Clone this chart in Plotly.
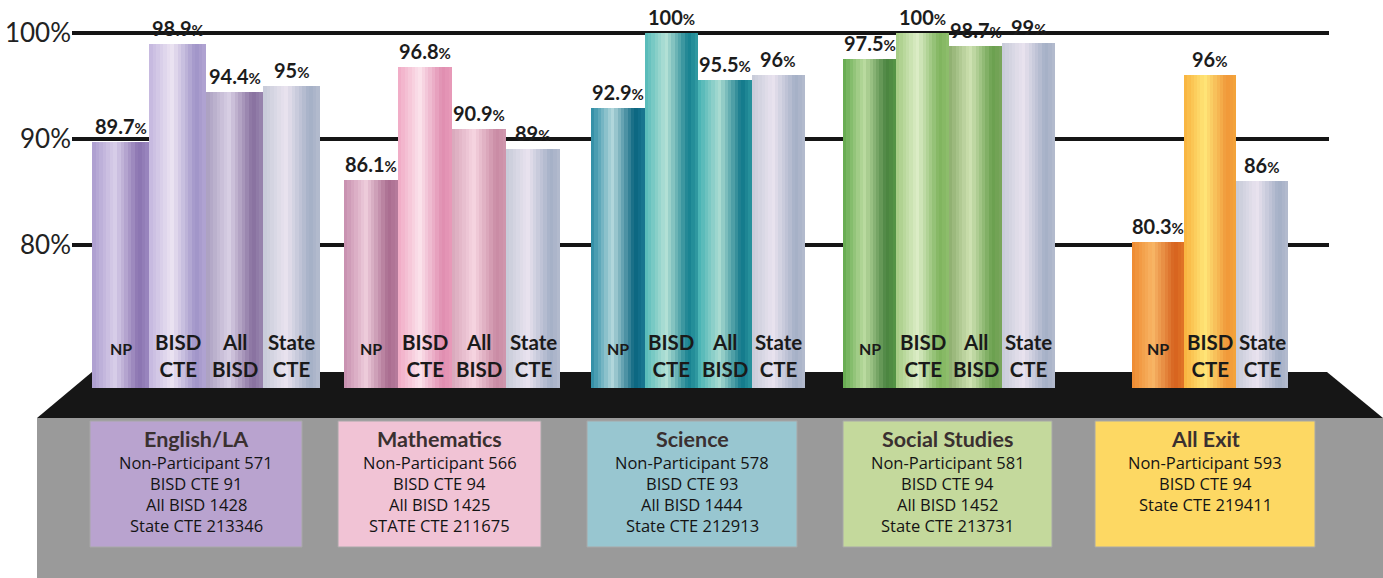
import plotly.graph_objects as go

# ---------------- data ----------------
subjects = ["English/LA", "Mathematics", "Science", "Social Studies", "All Exit"]
series = ["NP", "BISD CTE", "All BISD", "State CTE"]
np_rate = [89.7, 86.1, 92.9, 97.5, 80.3]
bisd_cte_rate = [98.9, 96.8, 100, 100, 96]
all_bisd_rate = [94.4, 90.9, 95.5, 98.7, None]
state_cte_rate = [95, 89, 96, 99, 86]

np_n = [571, 566, 578, 581, 593]
bisd_cte_n = [91, 94, 93, 94, 94]
all_bisd_n = [1428, 1425, 1444, 1452, None]
state_cte_n = [213346, 211675, 212913, 213731, 219411]
state_cte_caption = ["State CTE", "STATE CTE", "State CTE", "State CTE", "State CTE"]

bar_label_lines = {"NP": ["NP"], "BISD CTE": ["BISD", "CTE"],
                   "All BISD": ["All", "BISD"], "State CTE": ["State", "CTE"]}
tick_vals = [80, 90, 100]
tick_text = ["80%", "90%", "100%"]

rates = [np_rate, bisd_cte_rate, all_bisd_rate, state_cte_rate]

# ---------------- layout / style ----------------
W, H = 1383, 578
PLOT_L, PLOT_R = 72, 1329
Y100_PX, PX_PER = 32.5, 10.625
Y_HI = 100 + Y100_PX / PX_PER
Y_LO = Y_HI - H / PX_PER


def v_at(py):
    return 100 - (py - Y100_PX) / PX_PER


BASE = v_at(388)


def yp(py):
    return 1 - py / H


def xp(px):
    return (px - PLOT_L) / (PLOT_R - PLOT_L)


GROUP_CENTER = [206, 452, 698, 949, 1210]
BAR_W = [57, 54, 53.5, 53, 52]

GREY = ("#c6cad8", "#e9e3ef", "#a4afc6")
COLORS = [
    [("#ab9ccf", "#d8cee9", "#8a73b0"), ("#c4b7de", "#ebe3f2", "#a094c8"),
     ("#a99ebf", "#d8cfe4", "#88709f"), GREY],
    [("#c68dad", "#eeccdb", "#a96c8f"), ("#f0a9c4", "#fbe2eb", "#e08db0"),
     ("#d8a6ba", "#f6d4e0", "#c98aa3"), GREY],
    [("#2a8ba4", "#b4d8dc", "#0b6580"), ("#52b9b8", "#b4e1d6", "#16808f"),
     ("#43b1b3", "#abdcd2", "#12788a"), GREY],
    [("#62a94d", "#bbdba0", "#4a8340"), ("#a2ca80", "#dcedc7", "#7fb45d"),
     ("#8cad6d", "#cfe2b2", "#6aa04e"), GREY],
    [("#ee8a30", "#f8b565", "#d6621f"), ("#f8b23d", "#ffe577", "#f0983a"),
     None, GREY],
]
BOX_COLORS = ["#b9a3cf", "#f1c3d5", "#98c6d0", "#c4d99c", "#fdd863"]
BOX_X = [(90, 302), (338, 541), (587, 797), (843, 1052), (1095, 1315)]
BOX_Y = (421, 547)


def hex2rgb(h):
    h = h.lstrip("#")
    return tuple(int(h[i:i + 2], 16) for i in (0, 2, 4))


def mix_rgb(a, b, t):
    return tuple(a[i] + (b[i] - a[i]) * t for i in range(3))


def profile(cols, t):
    mid, hi, dark = (hex2rgb(c) for c in cols)
    edge = mix_rgb(mid, dark, 0.5)
    stops = [(0.0, mid), (0.40, hi), (0.82, dark), (1.0, edge)]
    for (p0, c0), (p1, c1) in zip(stops[:-1], stops[1:]):
        if p0 <= t <= p1:
            c = mix_rgb(c0, c1, (t - p0) / (p1 - p0))
            return "rgb(%d,%d,%d)" % tuple(round(v) for v in c)
    return "rgb(%d,%d,%d)" % mid


# collect bars
bars = []  # (group, series_idx, left, width, value)
for g in range(len(subjects)):
    present = [s for s in range(len(series)) if rates[s][g] is not None]
    w = BAR_W[g]
    left0 = GROUP_CENTER[g] - len(present) * w / 2
    for i, s in enumerate(present):
        bars.append((g, s, left0 + i * w, w, rates[s][g]))

fig = go.Figure()

N = 16
for k in range(N):
    t = (k + 0.5) / N
    fig.add_trace(go.Bar(
        x=[b[2] + (k + 0.5) * b[3] / N + (0.6 if k < N - 1 else 0) for b in bars],
        y=[b[4] - BASE for b in bars],
        base=BASE,
        width=[b[3] / N + (1.2 if k < N - 1 else 0) for b in bars],
        marker=dict(color=[profile(COLORS[b[0]][b[1]], t) for b in bars],
                    line=dict(width=0)),
        hoverinfo="skip", showlegend=False,
    ))

annotations = []
# value labels and in-bar category labels
for g, s, left, w, v in bars:
    annotations.append(dict(
        x=left + w / 2, y=v, xref="x", yref="y", xanchor="center",
        yanchor="bottom", yshift=2,
        text="<b>%s<span style='font-size:15px'>%%</span></b>" % format(v, "g"),
        showarrow=False, font=dict(family="Lato", size=20, color="#1c1c1c")))
    lines = bar_label_lines[series[s]]
    if len(lines) == 1:
        annotations.append(dict(
            x=left + w / 2, y=yp(348), xref="x", yref="paper",
            xanchor="center", yanchor="middle",
            text="<b>%s</b>" % lines[0], showarrow=False,
            font=dict(family="Lato", size=16, color="#1a1a1a")))
    else:
        annotations.append(dict(
            x=left + w / 2, y=yp(355), xref="x", yref="paper",
            xanchor="center", yanchor="middle",
            text="<b>%s</b>" % "<br>".join(lines), showarrow=False,
            font=dict(family="Lato", size=20.5, color="#1a1a1a")))

shapes = []
# gray base and black platform
shapes.append(dict(type="rect", xref="paper", yref="paper",
                   x0=xp(37), x1=xp(1383), y0=yp(418), y1=yp(578),
                   fillcolor="#9a9a9a", line=dict(width=0), layer="below"))
path = "M %f,%f L %f,%f L %f,%f L %f,%f Z" % (
    xp(92), yp(372), xp(1327), yp(372), xp(1383), yp(418), xp(37), yp(418))
shapes.append(dict(type="path", xref="paper", yref="paper", path=path,
                   fillcolor="#161616", line=dict(width=0), layer="below"))

# info boxes
for g in range(len(subjects)):
    x0, x1 = BOX_X[g]
    shapes.append(dict(type="rect", xref="paper", yref="paper",
                       x0=xp(x0), x1=xp(x1), y0=yp(BOX_Y[1]), y1=yp(BOX_Y[0]),
                       fillcolor=BOX_COLORS[g], line=dict(width=1, color="#a8a8a8"),
                       layer="below"))
    cx = (x0 + x1) / 2
    annotations.append(dict(
        x=xp(cx), y=yp(439), xref="paper", yref="paper",
        xanchor="center", yanchor="middle",
        text="<b>%s</b>" % subjects[g], showarrow=False,
        font=dict(family="Lato", size=21.5, color="#3a3030")))
    lines = ["Non-Participant %d" % np_n[g], "BISD CTE %d" % bisd_cte_n[g]]
    if all_bisd_n[g] is not None:
        lines.append("All BISD %d" % all_bisd_n[g])
    lines.append("%s %d" % (state_cte_caption[g], state_cte_n[g]))
    for j, ln in enumerate(lines):
        annotations.append(dict(
            x=xp(cx), y=yp(462 + 21.3 * j), xref="paper", yref="paper",
            xanchor="center", yanchor="middle", text=ln, showarrow=False,
            font=dict(family="Open Sans", size=16.5, color="#141414")))

fig.update_layout(
    width=W, height=H,
    margin=dict(l=PLOT_L, r=W - PLOT_R, t=0, b=0, pad=0),
    paper_bgcolor="white", plot_bgcolor="rgba(0,0,0,0)",
    barmode="overlay", bargap=0,
    showlegend=False,
    xaxis=dict(range=[PLOT_L, PLOT_R], visible=False, fixedrange=True),
    yaxis=dict(range=[Y_LO, Y_HI], tickvals=tick_vals, ticktext=tick_text,
               showgrid=True, gridcolor="#151515", gridwidth=4,
               zeroline=False, showline=False, ticks="", ticklabelstandoff=0,
               tickfont=dict(family="Lato", size=26, color="#222222"),
               fixedrange=True),
    shapes=shapes, annotations=annotations,
)

fig.write_html("out.html", config={"displayModeBar": False},
               post_script="document.body.style.margin='0';document.body.style.overflow='hidden';")
